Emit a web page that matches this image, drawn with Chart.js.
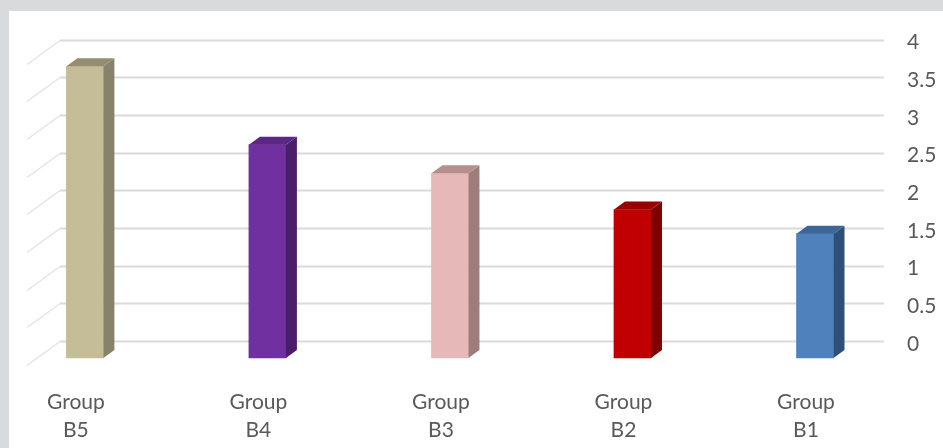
<!DOCTYPE html>
<html lang="en">
<head>
    <meta charset="UTF-8">
    <title>Group B values</title>
    <style>
        body { margin: 0; background: #fff; }
        #wrap { width: 943px; height: 448px; }
    </style>
    <script src="https://cdn.jsdelivr.net/npm/chart.js"></script>
</head>
<body>
    <div id="wrap"><canvas id="chart" width="943" height="448"></canvas></div>

    <script>
        // data
        const categories = [['Group', 'B5'], ['Group', 'B4'], ['Group', 'B3'], ['Group', 'B2'], ['Group', 'B1']];
        const values = [3.87, 2.83, 2.45, 1.97, 1.65];
        const frontColors = ['#c4bd97', '#7030a0', '#e6b9b8', '#c00000', '#4f81bd'];
        const sideColors = ['#87826a', '#4b1e6c', '#9e7c7c', '#7f0000', '#2e4f78'];
        const topColors = ['#938e70', '#5b2783', '#b58e8e', '#990000', '#3c6598'];

        const depthX = 11, depthY = 8;      // bar depth
        const shiftX = 9, shiftY = 17;      // bars sit in front of the back wall

        const frame = {
            id: 'frame',
            beforeDraw(chart) {
                const ctx = chart.ctx;
                ctx.save();
                ctx.fillStyle = '#d9dadc';
                ctx.fillRect(0, 0, chart.width, chart.height);
                ctx.fillStyle = '#ffffff';
                ctx.fillRect(9, 11, chart.width - 9, chart.height - 11);
                ctx.restore();
            }
        };

        const backWall = {
            id: 'backWall',
            beforeDatasetsDraw(chart) {
                const ctx = chart.ctx;
                const y = chart.scales.y;
                ctx.save();
                y.ticks.forEach(t => {
                    const py = Math.round(y.getPixelForValue(t.value)) + 0.5;
                    ctx.strokeStyle = '#dadada';
                    ctx.lineWidth = 2;
                    ctx.beginPath();
                    ctx.moveTo(60, py);
                    ctx.lineTo(884, py);
                    ctx.stroke();
                    ctx.strokeStyle = '#e4e4e4';
                    ctx.lineWidth = 1.5;
                    ctx.beginPath();
                    ctx.moveTo(60, py);
                    ctx.lineTo(27, py + 24);
                    ctx.stroke();
                });
                ctx.restore();
                // move the bars to the front plane
                ctx.save();
                ctx.translate(shiftX, shiftY);
            },
            afterDatasetsDraw(chart) {
                const ctx = chart.ctx;
                const meta = chart.getDatasetMeta(0);
                meta.data.forEach((bar, i) => {
                    const p = bar.getProps(['x', 'y', 'base', 'width'], true);
                    const l = p.x - p.width / 2, r = p.x + p.width / 2;
                    ctx.fillStyle = sideColors[i];
                    ctx.beginPath();
                    ctx.moveTo(r, p.base);
                    ctx.lineTo(r, p.y);
                    ctx.lineTo(r + depthX, p.y - depthY);
                    ctx.lineTo(r + depthX, p.base - depthY);
                    ctx.closePath();
                    ctx.fill();
                    ctx.fillStyle = topColors[i];
                    ctx.beginPath();
                    ctx.moveTo(l, p.y);
                    ctx.lineTo(r, p.y);
                    ctx.lineTo(r + depthX, p.y - depthY);
                    ctx.lineTo(l + depthX, p.y - depthY);
                    ctx.closePath();
                    ctx.fill();
                });
                ctx.restore();
            }
        };

        new Chart(document.getElementById('chart').getContext('2d'), {
            type: 'bar',
            data: {
                labels: categories,
                datasets: [{
                    data: values,
                    backgroundColor: frontColors,
                    borderWidth: 0,
                    barThickness: 37,
                    clip: false
                }]
            },
            options: {
                responsive: false,
                animation: false,
                events: [],
                layout: { padding: { left: 70, right: 0, top: 39.5, bottom: 0 } },
                plugins: {
                    legend: { display: false },
                    tooltip: { enabled: false }
                },
                scales: {
                    x: {
                        offset: false,
                        grid: { display: false, drawTicks: false },
                        border: { display: false },
                        ticks: {
                            maxRotation: 0,
                            autoSkip: false,
                            padding: 47,
                            color: '#595959',
                            font: { family: 'Lato', size: 21, lineHeight: 1.33 }
                        },
                        afterFit(scale) { scale.height = 107; }
                    },
                    y: {
                        position: 'right',
                        min: 0,
                        max: 4,
                        grid: { display: false, drawTicks: false },
                        border: { display: false },
                        ticks: {
                            stepSize: 0.5,
                            padding: 101,
                            labelOffset: 3,
                            color: '#595959',
                            font: { family: 'Lato', size: 21 },
                            callback: v => String(v)
                        },
                        afterFit(scale) {
                            scale.width = 137;
                            scale.paddingTop = 0;
                            scale.paddingBottom = 0;
                        }
                    }
                }
            },
            plugins: [frame, backWall]
        });
    </script>
</body>
</html>
